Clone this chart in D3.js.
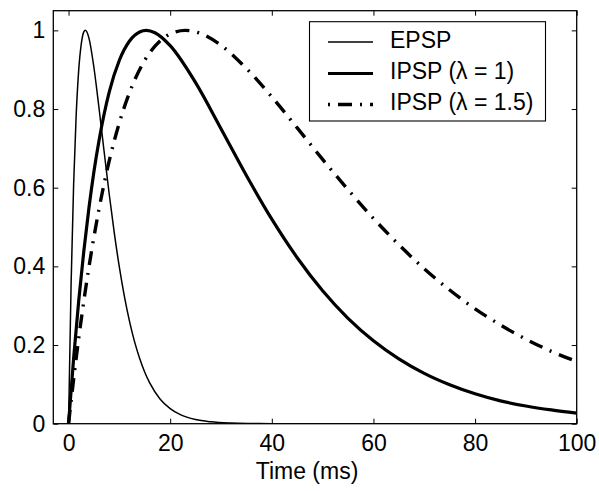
<!DOCTYPE html>
<html>
<head>
<meta charset="utf-8">
<script src="https://cdn.jsdelivr.net/npm/d3@7"></script>
<style>
  html, body { margin: 0; padding: 0; background: #fff; }
  svg { display: block; font-family: "Liberation Sans", Arial, Helvetica, sans-serif; }
</style>
</head>
<body>
<div id="chart"></div>
<script>
// ---- data ----
const xTicks = [0, 20, 40, 60, 80, 100];
const yTicks = [0, 0.2, 0.4, 0.6, 0.8, 1];
const xLabel = "Time (ms)";
const seriesNames = ["EPSP", "IPSP (\u03bb = 1)", "IPSP (\u03bb = 1.5)"];

const epspT = [0, 0.5, 1, 1.5, 2, 2.5, 3, 3.3, 4, 5, 6, 7, 8, 9, 10, 11, 12, 13, 14, 15, 16, 18, 20, 22, 25, 28, 32, 36, 40, 50, 60, 70, 80, 90, 100];
const epspV = [0, 0.354, 0.608, 0.784, 0.899, 0.965, 0.996, 1, 0.981, 0.905, 0.802, 0.692, 0.584, 0.485, 0.398, 0.323, 0.260, 0.208, 0.166, 0.131, 0.103, 0.063, 0.0385, 0.023, 0.0105, 0.0048, 0.0016, 0.0005, 0.0001, 0, 0, 0, 0, 0, 0];

const ipsp1T = [0, 1, 2, 3, 4, 5, 6, 8, 10, 12, 14, 15.3, 17, 20, 25, 30, 35, 40, 45, 50, 55, 60, 65, 70, 75, 80, 85, 90, 95, 100];
const ipsp1V = [0, 0.166, 0.312, 0.438, 0.547, 0.641, 0.720, 0.843, 0.924, 0.973, 0.996, 1, 0.994, 0.961, 0.867, 0.750, 0.631, 0.520, 0.422, 0.338, 0.268, 0.211, 0.165, 0.128, 0.099, 0.076, 0.058, 0.045, 0.035, 0.027];

const ipsp15T = [0, 1, 2, 3, 4, 6, 8, 10, 12, 15, 18, 20, 23, 26, 30, 35, 40, 45, 50, 55, 60, 65, 70, 75, 80, 85, 90, 95, 100];
const ipsp15V = [0, 0.113, 0.217, 0.311, 0.397, 0.546, 0.668, 0.765, 0.842, 0.924, 0.973, 0.991, 1, 0.992, 0.962, 0.903, 0.831, 0.752, 0.672, 0.595, 0.522, 0.455, 0.394, 0.340, 0.292, 0.251, 0.215, 0.184, 0.158];

// ---- layout ----
const W = 599, H = 491;
const L = 53.3, R = 576.7, T = 10.7, B = 423.7;
const FS = 23;

const svg = d3.select("#chart").append("svg").attr("width", W).attr("height", H);

const x = d3.scaleLinear().domain([-3, 100]).range([L, R]);
const y = d3.scaleLinear().domain([0, 1.05]).range([B, T]);

const zip = (ts, vs) => ts.map((t, i) => ({ t, v: vs[i] }));
const series = [
  { name: seriesNames[0], data: zip(epspT, epspV), width: 1.5, dash: null },
  { name: seriesNames[1], data: zip(ipsp1T, ipsp1V), width: 3.2, dash: null },
  { name: seriesNames[2], data: zip(ipsp15T, ipsp15V), width: 3.4, dash: "14,8,2,8" }
];

const line = d3.line().x(d => x(d.t)).y(d => y(d.v)).curve(d3.curveMonotoneX);

svg.append("defs").append("clipPath").attr("id", "clip")
  .append("rect").attr("x", L).attr("y", T).attr("width", R - L).attr("height", B - T);

const g = svg.append("g").attr("clip-path", "url(#clip)");
series.forEach(s => {
  g.append("path").datum(s.data)
    .attr("d", line)
    .attr("fill", "none")
    .attr("stroke", "#000")
    .attr("stroke-width", s.width)
    .attr("stroke-linejoin", "round")
    .attr("stroke-dasharray", s.dash);
});

// ---- axes ----
const fmt = d3.format("~g");
function styleAxis(sel) {
  sel.select(".domain").remove();
  sel.selectAll(".tick line").attr("stroke", "#000").attr("stroke-width", 1);
  sel.selectAll("text").attr("fill", "#000").style("font-size", FS + "px")
     .style("font-family", '"Liberation Sans", Arial, Helvetica, sans-serif');
}
svg.append("g").attr("transform", `translate(0,${B})`)
  .call(d3.axisBottom(x).tickValues(xTicks).tickFormat(fmt).tickSize(-5).tickPadding(11))
  .call(styleAxis);
svg.append("g").attr("transform", `translate(0,${T})`)
  .call(d3.axisTop(x).tickValues(xTicks).tickFormat("").tickSize(-5))
  .call(styleAxis);
svg.append("g").attr("transform", `translate(${L},0)`)
  .call(d3.axisLeft(y).tickValues(yTicks).tickFormat(fmt).tickSize(-5).tickPadding(8))
  .call(styleAxis);
svg.append("g").attr("transform", `translate(${R},0)`)
  .call(d3.axisRight(y).tickValues(yTicks).tickFormat("").tickSize(-5))
  .call(styleAxis);

svg.append("rect").attr("x", L).attr("y", T).attr("width", R - L).attr("height", B - T)
  .attr("fill", "none").attr("stroke", "#000").attr("stroke-width", 1.3);

svg.append("text").attr("x", 307).attr("y", 479).attr("text-anchor", "middle")
  .style("font-size", FS + "px").attr("fill", "#000").text(xLabel);

// ---- legend ----
const lg = svg.append("g");
lg.append("rect").attr("x", 309.5).attr("y", 21.7).attr("width", 236).attr("height", 99.3)
  .attr("fill", "#fff").attr("stroke", "#000").attr("stroke-width", 1.1);
const rowY = [42, 73.5, 104.5];
series.forEach((s, i) => {
  lg.append("line").attr("x1", 328).attr("x2", 373).attr("y1", rowY[i]).attr("y2", rowY[i])
    .attr("stroke", "#000").attr("stroke-width", s.width)
    .attr("stroke-dasharray", s.dash).attr("stroke-dashoffset", s.dash ? 22 : null);
  lg.append("text").attr("x", 390).attr("y", rowY[i] + 5.5)
    .style("font-size", FS + "px").attr("fill", "#000").text(s.name);
});
</script>
</body>
</html>
